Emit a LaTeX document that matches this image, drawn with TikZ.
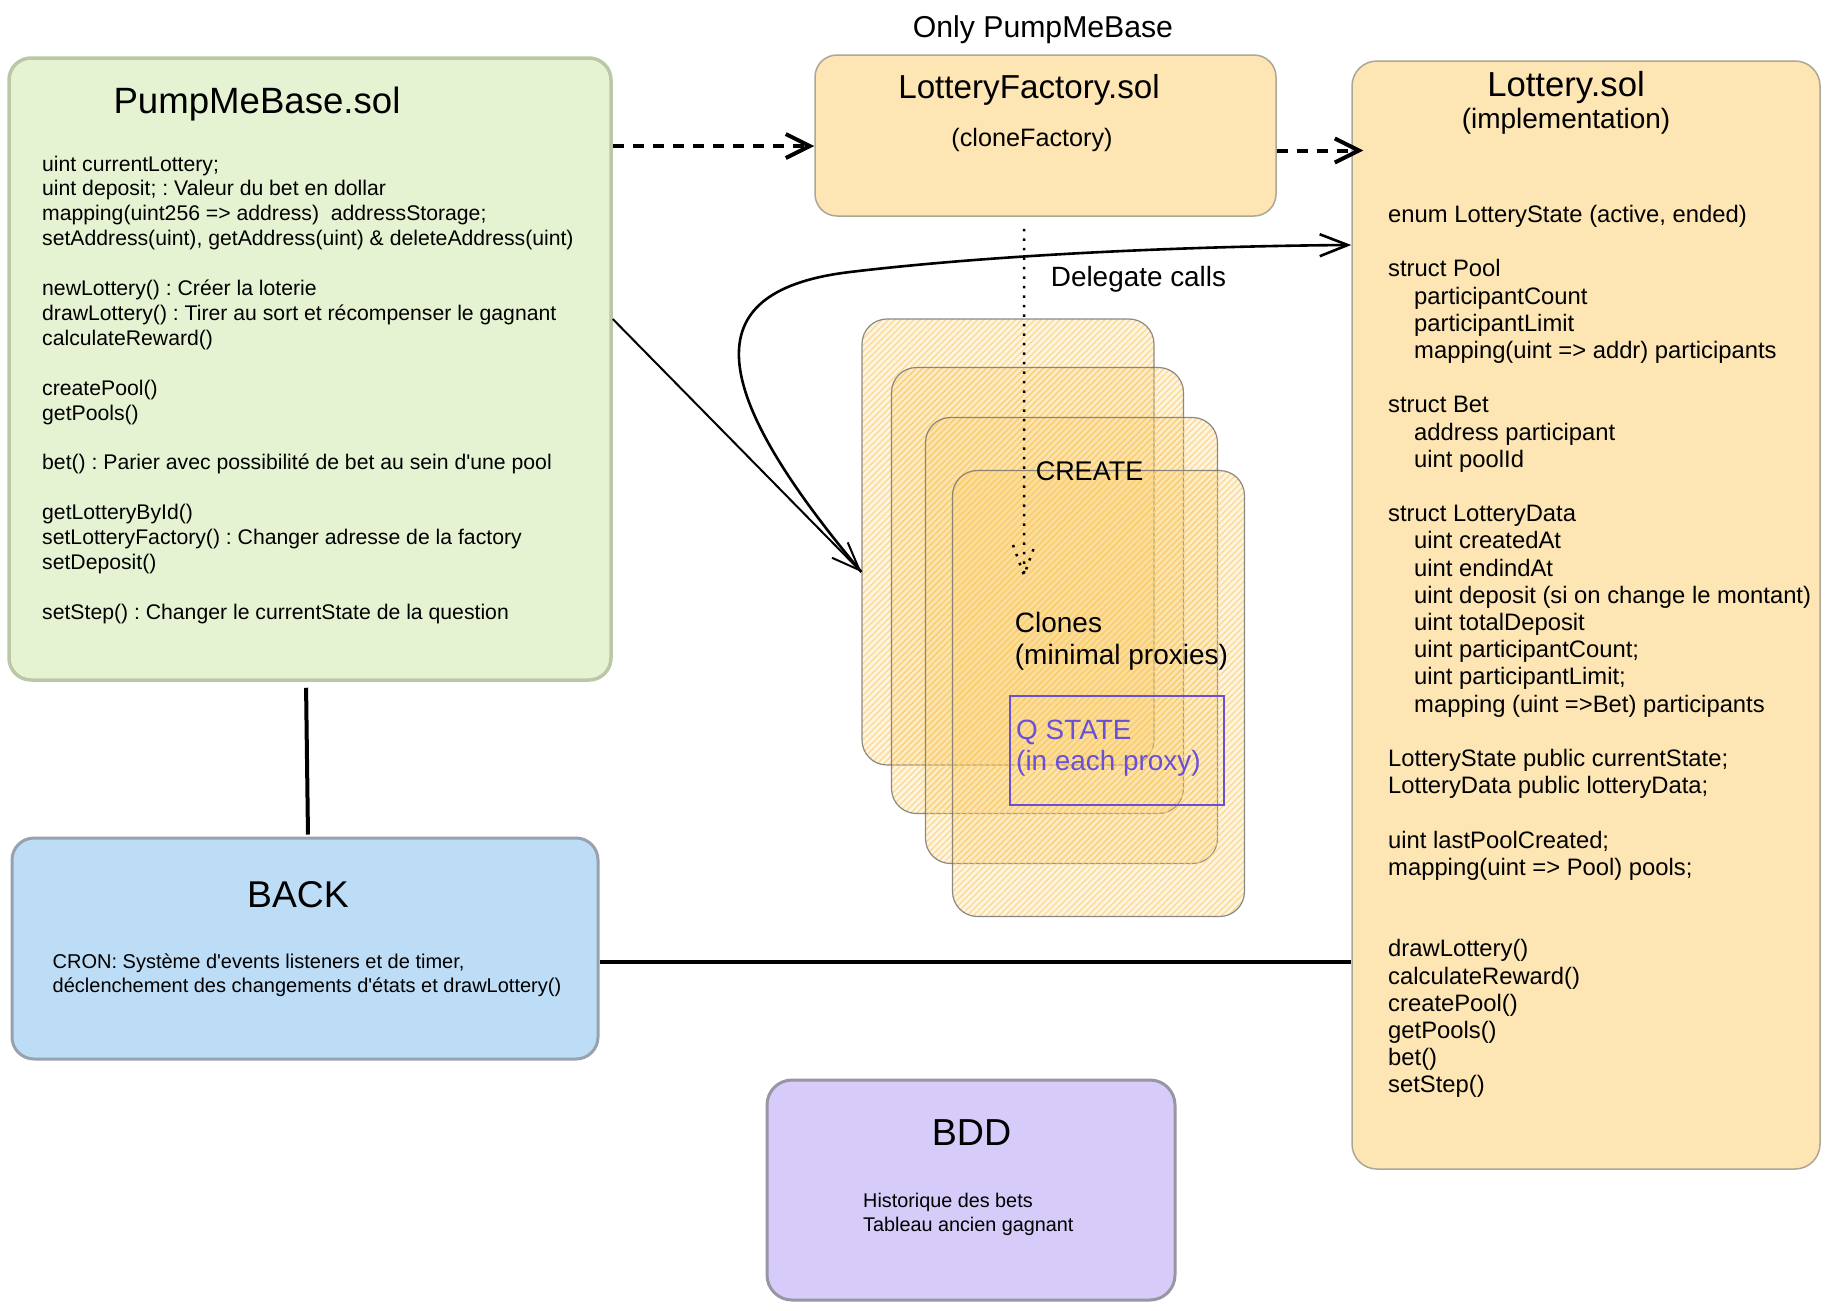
\documentclass[tikz,border=0pt]{standalone}
\usepackage{fontspec}
\setmainfont{Liberation Sans}[Ligatures=TeXOff]
\usetikzlibrary{arrows.meta,patterns.meta,calc}

\definecolor{basegreen}{RGB}{230,243,210}
\definecolor{basegreenline}{RGB}{186,200,166}
\definecolor{sandfill}{RGB}{253,230,180}
\definecolor{sandline}{RGB}{172,166,150}
\definecolor{backblue}{RGB}{189,220,246}
\definecolor{backline}{RGB}{152,162,174}
\definecolor{bddlilac}{RGB}{214,203,249}
\definecolor{bddline}{RGB}{152,150,162}
\definecolor{cloneorange}{RGB}{250,196,80}
\definecolor{qpurple}{RGB}{105,80,215}

\newcommand{\fs}[2]{\fontsize{#1}{#2}\selectfont}
\newcommand{\lotind}{\hspace*{26pt}}
\frenchspacing

\begin{document}
\begin{tikzpicture}[x=1pt,y=-1pt,
    box/.style={draw,rounded corners=22pt,inner sep=0pt},
    clonebox/.style={draw=black!60,draw opacity=0.75,line width=1.2pt,
      rounded corners=25pt,inner sep=0pt,minimum width=292pt,minimum height=446pt,
      preaction={fill=cloneorange,fill opacity=0.18},
      pattern={Lines[angle=45,distance=4.5pt,line width=1.2pt]},
      pattern color=cloneorange!80,fill opacity=0.6},
    txt/.style={inner sep=0pt,align=left},
    dashflow/.style={line width=4pt,dash pattern=on 11pt off 9pt,
      -{Straight Barb[length=24pt,width=24pt]}},
    flow/.style={line width=2pt,-{Straight Barb[length=28pt,width=22pt]}},
    dotflow/.style={line width=2.5pt,dash pattern=on 2.5pt off 7pt},
    link/.style={line width=4pt}]

  \path[fill=white] (0,0) rectangle (1831,1310);
  \useasboundingbox (0,0) rectangle (1831,1310);

  % boxes
  \node[box,fill=basegreen,draw=basegreenline,line width=3.5pt,
    minimum width=602pt,minimum height=622pt] (base) at (310,369) {};
  \node[box,fill=sandfill,draw=sandline,line width=1.5pt,
    minimum width=461pt,minimum height=161pt] (factory) at (1045.5,135.5) {};
  \node[box,fill=sandfill,draw=sandline,line width=1.5pt,rounded corners=25pt,
    minimum width=468pt,minimum height=1108pt] (lottery) at (1586,615) {};
  \node[box,fill=backblue,draw=backline,line width=3pt,
    minimum width=586pt,minimum height=221pt] (back) at (305,948.5) {};
  \node[box,fill=bddlilac,draw=bddline,line width=3pt,rounded corners=25pt,
    minimum width=408pt,minimum height=220pt] (bdd) at (971,1190) {};

  % clones
  \foreach \i/\cx/\cy in {1/1008/542,2/1037.5/590.5,3/1071.5/640.5,4/1098.5/693.5}
    \node[clonebox] (c\i) at (\cx,\cy) {};
  \node[draw=qpurple,line width=1.5pt,inner sep=0pt,
    minimum width=214pt,minimum height=109pt] (qbox) at (1117,750.5) {};

  % texts
  \node[txt,font=\fs{30.2}{36}] (onlylbl) at (1043,29.5) {Only PumpMeBase};
  \node[txt,font=\fs{36.6}{44}] (basetitle) at (257,104) {PumpMeBase.sol};
  \node[txt,font=\fs{21.2}{24.9},anchor=north west] (basetext) at (42,155.5) {%
    uint currentLottery;\\
    uint deposit; : Valeur du bet en dollar\\
    mapping(uint256 => address)\ \ addressStorage;\\
    setAddress(uint), getAddress(uint) \& deleteAddress(uint)\\
    ~\\
    newLottery() : Créer la loterie\\
    drawLottery() : Tirer au sort et récompenser le gagnant\\
    calculateReward()\\
    ~\\
    createPool()\\
    getPools()\\
    ~\\
    bet() : Parier avec possibilité de bet au sein d'une pool\\
    ~\\
    getLotteryById()\\
    setLotteryFactory() : Changer adresse de la factory\\
    setDeposit()\\
    ~\\
    setStep() : Changer le currentState de la question};

  \node[txt,font=\fs{33.2}{40}] (facttitle) at (1029,89.5) {LotteryFactory.sol};
  \node[txt,font=\fs{25.2}{30}] (factsub) at (1032,139.5) {(cloneFactory)};

  \node[txt,font=\fs{34.7}{42}] (lotttitle) at (1566,87.5) {Lottery.sol};
  \node[txt,font=\fs{28}{34}] (lottsub) at (1566,121) {(implementation)};
  \node[txt,font=\fs{23.8}{27.2},anchor=north west] (lotttext) at (1388,205) {%
    enum LotteryState (active, ended)\\
    ~\\
    struct Pool\\
    \lotind participantCount\\
    \lotind participantLimit\\
    \lotind mapping(uint => addr) participants\\
    ~\\
    struct Bet\\
    \lotind address participant\\
    \lotind uint poolId\\
    ~\\
    struct LotteryData\\
    \lotind uint createdAt\\
    \lotind uint endindAt\\
    \lotind uint deposit (si on change le montant)\\
    \lotind uint totalDeposit\\
    \lotind uint participantCount;\\
    \lotind uint participantLimit;\\
    \lotind mapping (uint =>Bet) participants\\
    ~\\
    LotteryState public currentState;\\
    LotteryData public lotteryData;\\
    ~\\
    uint lastPoolCreated;\\
    mapping(uint => Pool) pools;\\
    ~\\
    ~\\
    drawLottery()\\
    calculateReward()\\
    createPool()\\
    getPools()\\
    bet()\\
    setStep()};

  \node[txt,font=\fs{27.9}{34}] (delegate) at (1138.5,279.5) {Delegate calls};
  \node[txt,font=\fs{27}{32}] (create) at (1089.5,471.5) {CREATE};
  \node[txt,font=\fs{28}{32},anchor=north west] (cloneslbl) at (1014.7,612) {%
    Clones\\(minimal proxies)};
  \node[txt,font=\fs{27.9}{31},anchor=north west,text=qpurple] (qstate) at (1016,720) {%
    Q STATE\\(in each proxy)};

  \node[txt,font=\fs{37.3}{44}] (backtitle) at (298,894.5) {BACK};
  \node[txt,font=\fs{20}{23.5},anchor=north west] (crontext) at (52.5,954) {%
    CRON: Système d'events listeners et de timer,\\
    déclenchement des changements d'états et drawLottery()};

  \node[txt,font=\fs{37.6}{44}] (bddtitle) at (971.5,1132.5) {BDD};
  \node[txt,font=\fs{19.8}{23.7},anchor=north west] (bddtext) at (863,1193) {%
    Historique des bets\\Tableau ancien gagnant};

  % connectors
  \coordinate (fa) at ([yshift=-10.5pt]factory.west);
  \coordinate (fb) at ([yshift=-15pt]factory.east);
  \coordinate (bl) at ([yshift=-13pt]back.east);
  \coordinate (mk) at (1024,575);
  \draw[dashflow] (base.east |- fa) -- (fa);
  \draw[dashflow] (fb) -- ($(fb -| lottery.west)+(12,0)$);
  \draw[flow] ([yshift=50pt]base.east) -- ([yshift=-30pt]c1.west);
  \draw[flow,line width=2.6pt] ([yshift=-30pt]c1.west)
    .. controls (700,380) and (700,290) .. (850,272)
    .. controls (1000,254) and (1200,246) .. ([yshift=370pt]lottery.west);
  \draw[dotflow] ([xshift=-21.5pt,yshift=-12pt]factory.south) -- (mk)
    ++(-11,-30) -- (mk) -- ++(11,-30);
  \draw[link,shorten <=6pt,shorten >=2pt] ([xshift=-4pt]base.south) -- ([xshift=3pt]back.north);
  \draw[link] (bl) -- (bl -| lottery.west);
\end{tikzpicture}
\end{document}
